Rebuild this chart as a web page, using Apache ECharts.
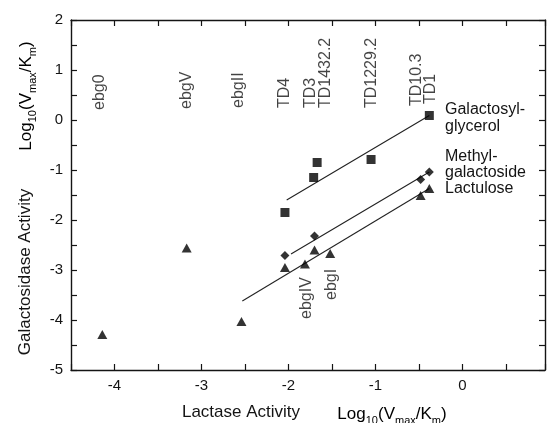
<!DOCTYPE html>
<html><head><meta charset="utf-8">
<script src="https://cdn.jsdelivr.net/npm/echarts@6/dist/echarts.min.js"></script>
<style>html,body{margin:0;padding:0;background:#fff}#c{width:548px;height:423px}</style>
</head><body><div id="c"></div>
<script>
// Galactosylglycerol (squares)
const galactosylX = [-2.04, -1.71, -1.67, -1.05, -0.38];
const galactosylY = [-1.85, -1.15, -0.85, -0.79, 0.09];
// Methylgalactoside (diamonds)
const methylX = [-2.04, -1.70, -0.48, -0.38];
const methylY = [-2.71, -2.32, -1.19, -1.04];
// Lactulose (triangles)
const lactuloseX = [-4.14, -3.17, -2.54, -2.04, -1.81, -1.70, -1.52, -0.48, -0.38];
const lactuloseY = [-4.29, -2.56, -4.03, -2.95, -2.88, -2.60, -2.67, -1.51, -1.37];
// Regression lines (end points)
const galactosylFitX = [-2.02, -0.38];
const galactosylFitY = [-1.60, 0.09];
const methylFitX = [-1.97, -0.38];
const methylFitY = [-2.68, -1.04];
const lactuloseFitX = [-2.53, -0.38];
const lactuloseFitY = [-3.62, -1.37];
// Strain labels
const topStrains = ['ebg0', 'ebgV', 'ebgII', 'TD4', 'TD3', 'TD1432.2', 'TD1229.2', 'TD10.3', 'TD1'];
const topStrainX = [-4.17, -3.17, -2.57, -2.04, -1.74, -1.57, -1.04, -0.53, -0.36];
const topStrainY = [0.20, 0.22, 0.24, 0.24, 0.24, 0.24, 0.24, 0.28, 0.32];
const lowStrains = ['ebgIV', 'ebgI'];
const lowStrainX = [-1.79, -1.50];
const lowStrainY = [-3.98, -3.60];
// Axes
const xMin = -4.5, xMax = 0.95, yMin = -5, yMax = 2, tickStep = 0.5;
const seriesNames = ['Galactosyl-\nglycerol', 'Methyl-\ngalactoside\nLactulose'];

const FONT = '"Liberation Sans", Arial, Helvetica, sans-serif';
const INK = '#141414';
const zip = (a, b) => a.map((v, i) => [v, b[i]]);
const intOnly = v => (Math.abs(v - Math.round(v)) < 1e-9 ? String(Math.round(v)) : '');

const axisLine = { show: true, onZero: false, lineStyle: { color: INK, width: 1.4 } };
const axisTick = { show: true, inside: true, length: 6, lineStyle: { color: INK, width: 1.2 } };

function xAx(pos, labels) {
  return {
    type: 'value', position: pos, min: xMin, max: xMax, interval: tickStep,
    axisLine, axisTick, splitLine: { show: false },
    axisLabel: { show: labels, formatter: intOnly, fontSize: 15, color: INK, fontFamily: FONT, margin: 8 }
  };
}
function yAx(pos, labels) {
  return {
    type: 'value', position: pos, min: yMin, max: yMax, interval: tickStep,
    axisLine, axisTick, splitLine: { show: false },
    axisLabel: { show: labels, formatter: intOnly, fontSize: 15, color: INK, fontFamily: FONT, margin: 8 }
  };
}

function fitLine(xs, ys) {
  return {
    type: 'line', data: zip(xs, ys), symbol: 'none', silent: true,
    lineStyle: { color: '#222', width: 1.1 }, z: 2
  };
}
function labelSeries(names, xs, ys) {
  return {
    type: 'scatter', symbolSize: 0, silent: true,
    data: names.map((n, i) => ({ value: [xs[i], ys[i]], name: n })),
    label: {
      show: true, position: 'inside', formatter: p => p.name, rotate: 90,
      align: 'left', verticalAlign: 'middle',
      fontSize: 16, color: INK, fontFamily: FONT
    }
  };
}

const rich = {
  b: { fontSize: 17, fontFamily: FONT, color: INK, lineHeight: 24 },
  s: { fontSize: 11, fontFamily: FONT, color: INK, lineHeight: 11, verticalAlign: 'bottom' }
};
const logText = '{b|Log}{s|10}{b|(V}{s|max}{b|/K}{s|m}{b|)}';

const chart = echarts.init(document.getElementById('c'), null, { renderer: 'canvas' });
chart.setOption({
  backgroundColor: '#fff',
  animation: false,
  grid: { left: 71, top: 20, width: 476, height: 350 },
  xAxis: [xAx('bottom', true), xAx('top', false)],
  yAxis: [yAx('left', true), yAx('right', false)],
  series: [
    fitLine(galactosylFitX, galactosylFitY),
    fitLine(methylFitX, methylFitY),
    fitLine(lactuloseFitX, lactuloseFitY),
    { type: 'scatter', data: zip(galactosylX, galactosylY), symbol: 'rect', symbolSize: 9,
      itemStyle: { color: '#000' }, z: 3 },
    { type: 'scatter', data: zip(methylX, methylY), symbol: 'diamond', symbolSize: [9, 9],
      itemStyle: { color: '#000' }, z: 3 },
    { type: 'scatter', data: zip(lactuloseX, lactuloseY), symbol: 'triangle', symbolSize: [10, 9],
      itemStyle: { color: '#000' }, z: 3 },
    labelSeries(topStrains, topStrainX, topStrainY),
    labelSeries(lowStrains, lowStrainX, lowStrainY)
  ],
  graphic: [
    { type: 'text', x: 25, y: 272, rotation: Math.PI / 2,
      style: { text: 'Galactosidase Activity', font: '17px ' + FONT, fill: INK, align: 'center', verticalAlign: 'middle' } },
    { type: 'text', x: 26, y: 96, rotation: Math.PI / 2,
      style: { text: logText, rich, align: 'center', verticalAlign: 'middle' } },
    { type: 'text', x: 241, y: 412,
      style: { text: 'Lactase Activity', font: '17px ' + FONT, fill: INK, align: 'center', verticalAlign: 'middle' } },
    { type: 'text', x: 392, y: 414,
      style: { text: logText, rich, align: 'center', verticalAlign: 'middle' } },
    { type: 'text', x: 445, y: 118,
      style: { text: seriesNames[0], font: '16px ' + FONT, fill: INK, lineHeight: 17, align: 'left', verticalAlign: 'middle' } },
    { type: 'text', x: 445, y: 173,
      style: { text: seriesNames[1], font: '16px ' + FONT, fill: INK, lineHeight: 16, align: 'left', verticalAlign: 'middle' } }
  ]
});
</script></body></html>
